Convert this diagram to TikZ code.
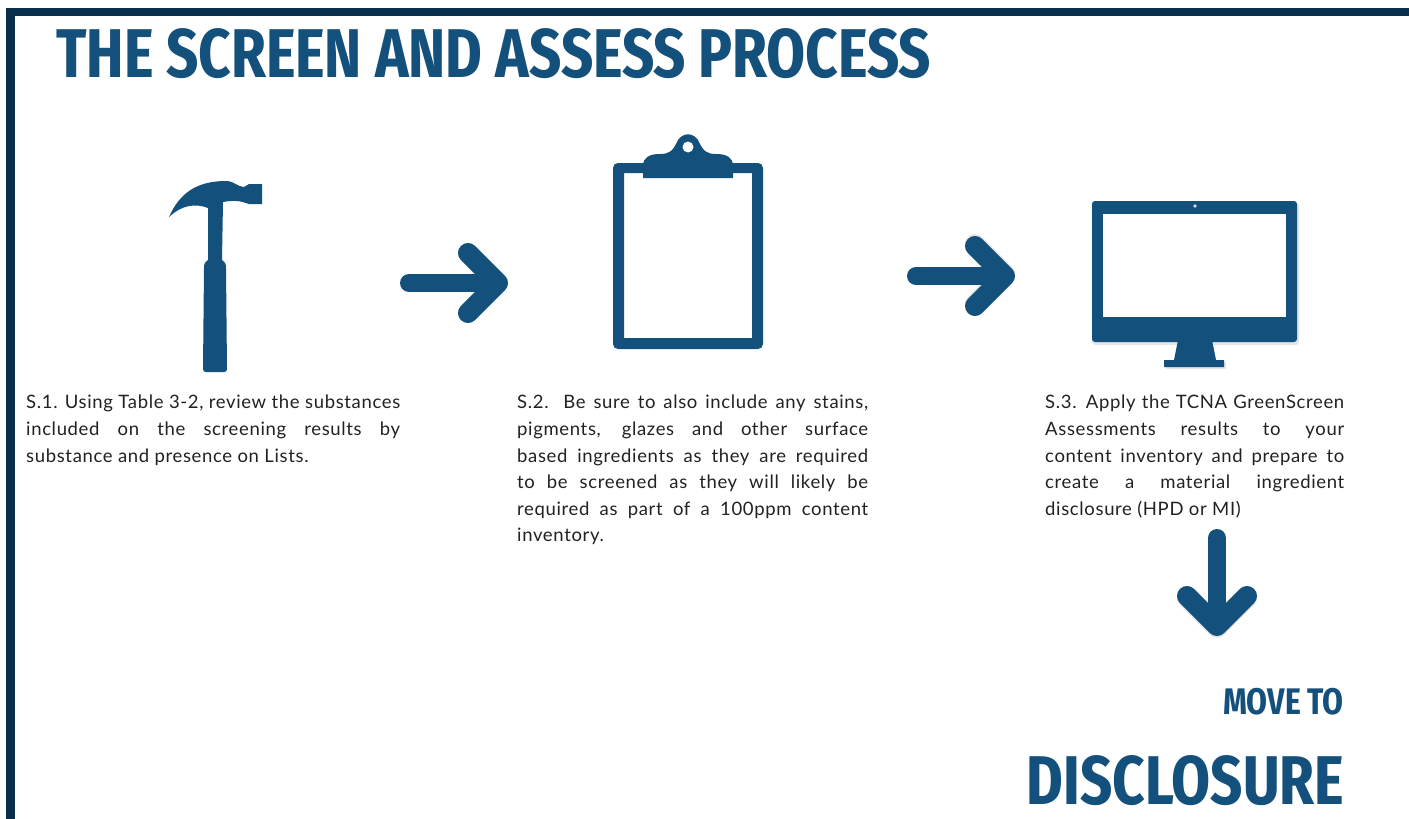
\documentclass[tikz,border=0pt]{standalone}
\usepackage{fontspec}
\setmainfont[LetterSpace=3.5]{Lato}
\newfontfamily\headfont[FakeStretch=0.9]{Fira Sans Condensed}
\usetikzlibrary{calc}
\definecolor{navy}{HTML}{0A2E4A}
\definecolor{blue}{HTML}{14507C}
\definecolor{ink}{HTML}{222222}
\tikzset{
  icon/.style={fill=blue,draw=none},
  soft/.style={fill=black,draw=none,opacity=.1},
  arrowline/.style={draw=blue,line width=18pt,line cap=round,line join=round},
  arrowhd/.style={draw=blue,line width=20pt,line cap=round,line join=round},
  arrowsoft/.style={draw=black,opacity=.1,line width=20pt,line cap=round,line join=round},
  bodytext/.style={anchor=north west,inner sep=0pt,text=ink,font=\fontsize{18.5}{26.6}\selectfont,align=justify},
  headtext/.style={text=blue,inner sep=0pt}
}
\begin{document}
\begin{tikzpicture}[x=1pt,y=-1pt]
\useasboundingbox (0,0) rectangle (1409,819);
\fill[white] (0,0) rectangle (1409,819);
\fill[navy] (6,8) rectangle (1409,16);
\fill[navy] (6,8) rectangle (15,819);
\node[headtext,anchor=west,font=\headfont\bfseries\fontsize{69}{69}\selectfont] (title) at (56,54) {THE SCREEN AND ASSESS PROCESS};
% hammer
\fill[icon] (169,217) .. controls (180,192) and (198,181) .. (226,181) .. controls (234,181) and (238,187) .. (244,187) -- (249,184) -- (262,184) -- (262,204) -- (249,204) .. controls (244,203) and (240,199) .. (223,202) -- (222,260) .. controls (225,261) and (226,264) .. (226,268) -- (227,369) .. controls (227,371) and (226,372) .. (224,372) -- (206,372) .. controls (204,372) and (203,371) .. (203,369) -- (204,268) .. controls (204,264) and (205,261) .. (208,260) -- (208,208) .. controls (195,203) and (182,205) .. (169,217) -- cycle;
% clipboard
\fill[icon,rounded corners=5pt,even odd rule] (613,163) rectangle (763,349) (624,173) [sharp corners] rectangle (752,338);
\fill[icon] (643,178) -- (643,166) .. controls (643,157) and (650,154) .. (660,154) .. controls (670,154) and (673,150) .. (676,144) .. controls (681,131) and (695,131) .. (700,144) .. controls (703,150) and (706,154) .. (716,154) .. controls (726,154) and (733,157) .. (733,166) -- (733,178) -- cycle;
\fill[white] (688,147) circle (5.5pt);
% monitor
\fill[soft,rounded corners=3pt] (1092,203) rectangle (1299,345);
\fill[icon,rounded corners=3pt] (1092,201) rectangle (1297,342);
\fill[white] (1103,214) rectangle (1286,317);
\fill[white!80!blue] (1195,206) circle (1.8pt);
\fill[soft] (1166,362) rectangle (1226,369);
\fill[icon] (1178,340) -- (1212,340) -- (1216,360) -- (1224,360) -- (1224,367) -- (1164,367) -- (1164,360) -- (1174,360) -- cycle;
% arrows
\coordinate (a1s) at (409,283); \coordinate (a1t) at (498,283);
\coordinate (a2s) at (916,276); \coordinate (a2t) at (1005,276);
\coordinate (a3s) at (1217,538); \coordinate (a3t) at (1217,626);
\draw[arrowsoft] ($(a2t)+(-30,-30)+(0,-2)$) -- ($(a2t)+(0,-2)$) -- ($(a2t)+(-30,30)+(0,-2)$);
\draw[arrowsoft] ($(a3t)+(-30,-30)+(0,2)$) -- ($(a3t)+(0,2)$) -- ($(a3t)+(30,-30)+(0,2)$);
\draw[arrowline] (a1s) -- (a1t);
\draw[arrowhd] ($(a1t)+(-30,-30)$) -- (a1t) -- ($(a1t)+(-30,30)$);
\draw[arrowline] (a2s) -- (a2t);
\draw[arrowhd] ($(a2t)+(-30,-30)$) -- (a2t) -- ($(a2t)+(-30,30)$);
\draw[arrowline] (a3s) -- (a3t);
\draw[arrowhd] ($(a3t)+(-30,-30)$) -- (a3t) -- ($(a3t)+(30,-30)$);
% texts
\node[bodytext,text width=374pt] (s1) at (26,395) {S.1. Using Table 3-2, review the substances\linebreak included on the screening results by\linebreak substance and presence on Lists.};
\node[bodytext,text width=351pt] (s2) at (517,395) {S.2. Be sure to also include any stains,\linebreak pigments, glazes and other surface\linebreak based ingredients as they are required\linebreak to be screened as they will likely be\linebreak required as part of a 100ppm content\linebreak inventory.};
\node[bodytext,text width=299pt] (s3) at (1045,395) {S.3. Apply the TCNA GreenScreen\linebreak Assessments results to your\linebreak content inventory and prepare to\linebreak create a material ingredient\linebreak disclosure (HPD or MI)};
\node[headtext,anchor=east,font=\headfont\bfseries\fontsize{37}{37}\selectfont] (move) at (1344,702) {MOVE TO};
\node[headtext,anchor=east,font=\headfont\bfseries\fontsize{69}{69}\selectfont] (disc) at (1344,781) {DISCLOSURE};
\end{tikzpicture}
\end{document}
